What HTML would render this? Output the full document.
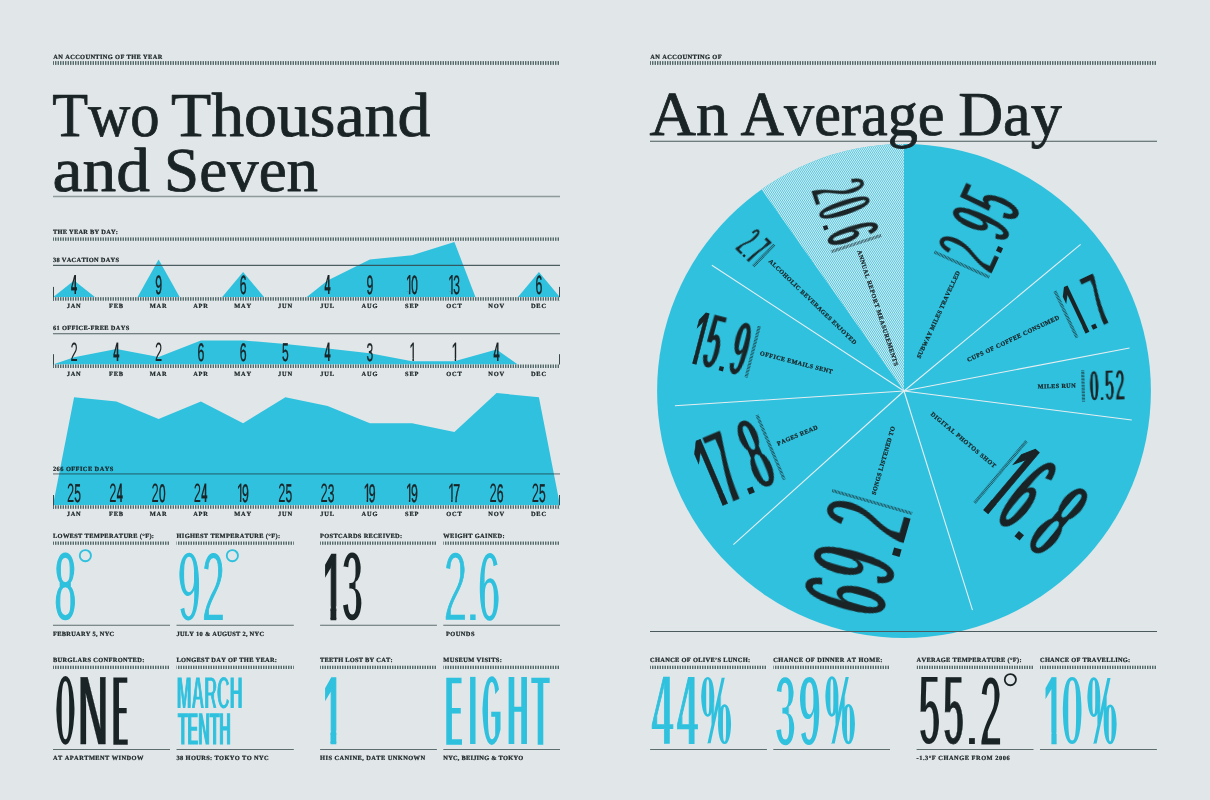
<!DOCTYPE html>
<html lang="en"><head><meta charset="utf-8"><title>Two Thousand and Seven</title>
<style>html,body{margin:0;padding:0;background:#e1e6e8;}svg{display:block}text{white-space:pre;font-kerning:none}</style></head>
<body>
<svg width="1210" height="800" viewBox="0 0 1210 800" text-rendering="geometricPrecision">
<defs>
<pattern id="tk" width="5" height="8" patternUnits="userSpaceOnUse"><rect width="5" height="8" fill="#e5ebec"/><rect x="0" width="1" height="8" fill="#566869"/><rect x="2" width="1" height="8" fill="#566869"/><rect x="3" width="2" height="8" fill="#a3b2b3"/></pattern>
<clipPath id="c1"><path d="M-9,-90H70V-9.53H34.74V9H24.39V-9.53H-9Z"/></clipPath>
<clipPath id="c2"><path d="M-9,-90H70V-9.53H34.74V9H24.39V-9.53H-9Z"/></clipPath>
<clipPath id="c3"><path d="M-9,-90H70V-9.53H34.74V9H24.39V-9.53H-9Z"/></clipPath>
<clipPath id="c4"><path d="M-9,-90H70V-9.53H34.74V9H24.39V-9.53H-9Z"/></clipPath>
<clipPath id="c5"><path d="M-9,-90H70V-9.53H34.74V9H24.39V-9.53H-9Z"/></clipPath>
<clipPath id="c6"><path d="M-9,-90H70V-9.53H34.74V9H24.39V-9.53H-9Z"/></clipPath>
<clipPath id="c7"><path d="M-9,-90H70V-9.53H34.74V9H24.39V-9.53H-9Z"/></clipPath>
<clipPath id="c8"><path d="M-9,-90H70V-9.53H34.74V9H24.39V-9.53H-9Z"/></clipPath>
<filter id="er1" x="-15%" y="-10%" width="130%" height="120%" color-interpolation-filters="sRGB"><feMorphology operator="erode" radius="0 2.14"/></filter>
<filter id="er2" x="-15%" y="-10%" width="130%" height="120%" color-interpolation-filters="sRGB"><feMorphology operator="erode" radius="0 3.08"/></filter>
<filter id="er3" x="-15%" y="-10%" width="130%" height="120%" color-interpolation-filters="sRGB"><feMorphology operator="erode" radius="0 2.10"/></filter>
<clipPath id="c9"><path d="M-9,-90H70V-13.17H38.72V9H21.68V-13.17H-9Z"/></clipPath>
<filter id="er4" x="-15%" y="-10%" width="130%" height="120%" color-interpolation-filters="sRGB"><feMorphology operator="erode" radius="0 2.96"/></filter>
<filter id="er5" x="-15%" y="-10%" width="130%" height="120%" color-interpolation-filters="sRGB"><feMorphology operator="erode" radius="0 2.09"/></filter>
<filter id="er6" x="-15%" y="-10%" width="130%" height="120%" color-interpolation-filters="sRGB"><feMorphology operator="erode" radius="0 3.11"/></filter>
<filter id="er7" x="-15%" y="-10%" width="130%" height="120%" color-interpolation-filters="sRGB"><feMorphology operator="erode" radius="0 7.58"/></filter>
<filter id="er8" x="-15%" y="-10%" width="130%" height="120%" color-interpolation-filters="sRGB"><feMorphology operator="erode" radius="0 9.40"/></filter>
<filter id="er9" x="-15%" y="-10%" width="130%" height="120%" color-interpolation-filters="sRGB"><feMorphology operator="erode" radius="0 4.39"/></filter>
<filter id="er10" x="-15%" y="-10%" width="130%" height="120%" color-interpolation-filters="sRGB"><feMorphology operator="erode" radius="0 4.44"/></filter>
<clipPath id="c10"><path d="M-9,-90H70V-13.17H38.72V9H21.68V-13.17H-9Z"/></clipPath>
<filter id="er11" x="-15%" y="-10%" width="130%" height="120%" color-interpolation-filters="sRGB"><feMorphology operator="erode" radius="0 7.56"/></filter>
<filter id="er12" x="-15%" y="-10%" width="130%" height="120%" color-interpolation-filters="sRGB"><feMorphology operator="erode" radius="0 7.64"/></filter>
<filter id="er13" x="-15%" y="-10%" width="130%" height="120%" color-interpolation-filters="sRGB"><feMorphology operator="erode" radius="0 6.48"/></filter>
<filter id="er14" x="-15%" y="-10%" width="130%" height="120%" color-interpolation-filters="sRGB"><feMorphology operator="erode" radius="0 5.68"/></filter>
<clipPath id="wclip"><path d="M904.0,391.0 L761.50,189.37 A246.9,246.9 0 0 1 904.00,144.10 Z"/></clipPath>
<filter id="er15" x="-15%" y="-10%" width="130%" height="120%" color-interpolation-filters="sRGB"><feMorphology operator="erode" radius="0 3.72"/></filter>
<filter id="er16" x="-15%" y="-10%" width="130%" height="120%" color-interpolation-filters="sRGB"><feMorphology operator="erode" radius="0 5.06"/></filter>
<filter id="er17" x="-15%" y="-10%" width="130%" height="120%" color-interpolation-filters="sRGB"><feMorphology operator="erode" radius="0 3.93"/></filter>
<filter id="er18" x="-15%" y="-10%" width="130%" height="120%" color-interpolation-filters="sRGB"><feMorphology operator="erode" radius="0 4.40"/></filter>
<filter id="er19" x="-15%" y="-10%" width="130%" height="120%" color-interpolation-filters="sRGB"><feMorphology operator="erode" radius="0 6.49"/></filter>
<clipPath id="c11"><path d="M-9,-90H70V-12.48H38.03V9H22.37V-12.48H-9Z"/></clipPath>
<filter id="er20" x="-15%" y="-10%" width="130%" height="120%" color-interpolation-filters="sRGB"><feMorphology operator="erode" radius="0 3.83"/></filter>
<filter id="er21" x="-15%" y="-10%" width="130%" height="120%" color-interpolation-filters="sRGB"><feMorphology operator="erode" radius="0 3.89"/></filter>
<clipPath id="c12"><path d="M-9,-90H70V-12.18H37.74V9H22.66V-12.18H-9Z"/></clipPath>
<filter id="er22" x="-15%" y="-10%" width="130%" height="120%" color-interpolation-filters="sRGB"><feMorphology operator="erode" radius="0 5.45"/></filter>
<filter id="er23" x="-15%" y="-10%" width="130%" height="120%" color-interpolation-filters="sRGB"><feMorphology operator="erode" radius="0 3.24"/></filter>
<filter id="er24" x="-15%" y="-10%" width="130%" height="120%" color-interpolation-filters="sRGB"><feMorphology operator="erode" radius="0 3.23"/></filter>
<filter id="er25" x="-15%" y="-10%" width="130%" height="120%" color-interpolation-filters="sRGB"><feMorphology operator="erode" radius="0 3.13"/></filter>
<clipPath id="c13"><path d="M-9,-90H70V-12.56H38.11V9H22.29V-12.56H-9Z"/></clipPath>
<filter id="er26" x="-15%" y="-10%" width="130%" height="120%" color-interpolation-filters="sRGB"><feMorphology operator="erode" radius="0 4.20"/></filter>
<filter id="er27" x="-15%" y="-10%" width="130%" height="120%" color-interpolation-filters="sRGB"><feMorphology operator="erode" radius="0 4.16"/></filter>
<filter id="er28" x="-15%" y="-10%" width="130%" height="120%" color-interpolation-filters="sRGB"><feMorphology operator="erode" radius="0 4.70"/></filter>
<filter id="er29" x="-15%" y="-10%" width="130%" height="120%" color-interpolation-filters="sRGB"><feMorphology operator="erode" radius="0 4.57"/></filter>
<filter id="er30" x="-15%" y="-10%" width="130%" height="120%" color-interpolation-filters="sRGB"><feMorphology operator="erode" radius="0 2.44"/></filter>
<clipPath id="c14"><path d="M-9,-90H70V-11.81H37.36V9H23.04V-11.81H-9Z"/></clipPath>
<filter id="er31" x="-15%" y="-10%" width="130%" height="120%" color-interpolation-filters="sRGB"><feMorphology operator="erode" radius="0 3.86"/></filter>
<filter id="er32" x="-15%" y="-10%" width="130%" height="120%" color-interpolation-filters="sRGB"><feMorphology operator="erode" radius="0 3.22"/></filter>
<filter id="er33" x="-15%" y="-10%" width="130%" height="120%" color-interpolation-filters="sRGB"><feMorphology operator="erode" radius="0 3.38"/></filter>
<filter id="er34" x="-15%" y="-10%" width="130%" height="120%" color-interpolation-filters="sRGB"><feMorphology operator="erode" radius="0 3.33"/></filter>
<filter id="er35" x="-15%" y="-10%" width="130%" height="120%" color-interpolation-filters="sRGB"><feMorphology operator="erode" radius="0 3.82"/></filter>
<filter id="er36" x="-15%" y="-10%" width="130%" height="120%" color-interpolation-filters="sRGB"><feMorphology operator="erode" radius="0 3.84"/></filter>
<filter id="er37" x="-15%" y="-10%" width="130%" height="120%" color-interpolation-filters="sRGB"><feMorphology operator="erode" radius="0 4.93"/></filter>
<filter id="er38" x="-15%" y="-10%" width="130%" height="120%" color-interpolation-filters="sRGB"><feMorphology operator="erode" radius="0 2.95"/></filter>
<filter id="er39" x="-15%" y="-10%" width="130%" height="120%" color-interpolation-filters="sRGB"><feMorphology operator="erode" radius="0 4.89"/></filter>
<filter id="er40" x="-15%" y="-10%" width="130%" height="120%" color-interpolation-filters="sRGB"><feMorphology operator="erode" radius="0 2.97"/></filter>
<filter id="er41" x="-15%" y="-10%" width="130%" height="120%" color-interpolation-filters="sRGB"><feMorphology operator="erode" radius="0 3.16"/></filter>
<clipPath id="c15"><path d="M-9,-90H70V-12.03H37.59V9H22.81V-12.03H-9Z"/></clipPath>
<filter id="er42" x="-15%" y="-10%" width="130%" height="120%" color-interpolation-filters="sRGB"><feMorphology operator="erode" radius="0 3.85"/></filter>
<filter id="er43" x="-15%" y="-10%" width="130%" height="120%" color-interpolation-filters="sRGB"><feMorphology operator="erode" radius="0 4.95"/></filter>
</defs>
<rect width="1210" height="800" fill="#e1e6e8"/>
<text x="53.3" y="58.7" font-family="Liberation Serif, serif" font-weight="bold" font-size="6.4" fill="#1a2325" stroke="#1a2325" stroke-width="0.22" textLength="109.0" lengthAdjust="spacing">AN ACCOUNTING OF THE YEAR</text>
<g transform="translate(53,61.10)"><rect x="0.00" y="0" width="507.00" height="3.80" fill="url(#tk)"/></g>
<text y="135.70" font-family="Liberation Serif, serif" font-size="62.5" fill="#1a2325" stroke="#1a2325" stroke-width="0.8" stroke-linejoin="round"><tspan x="52.24" textLength="107.39" lengthAdjust="spacingAndGlyphs">Two</tspan> <tspan x="171.01" textLength="259.39" lengthAdjust="spacingAndGlyphs">Thousand</tspan></text>
<text y="190.90" font-family="Liberation Serif, serif" font-size="62.5" fill="#1a2325" stroke="#1a2325" stroke-width="0.8" stroke-linejoin="round"><tspan x="52.53" textLength="97.50" lengthAdjust="spacingAndGlyphs">and</tspan> <tspan x="164.08" textLength="154.07" lengthAdjust="spacingAndGlyphs">Seven</tspan></text>
<line x1="53.0" y1="196.5" x2="560.0" y2="196.5" stroke="#8e9a9c" stroke-width="1.6" opacity="1"/>
<text x="53.0" y="233.9" font-family="Liberation Serif, serif" font-weight="bold" font-size="6.4" fill="#1a2325" stroke="#1a2325" stroke-width="0.22" textLength="65.0" lengthAdjust="spacing">THE YEAR BY DAY:</text>
<g transform="translate(53,237.40)"><rect x="0.00" y="0" width="507.00" height="3.40" fill="url(#tk)"/></g>
<polygon points="53.0,297.2 74.1,280.4 95.2,297.2" fill="#2fc1de"/>
<polygon points="137.5,297.2 158.6,259.4 179.8,297.2" fill="#2fc1de"/>
<polygon points="222.0,297.2 243.1,272.0 264.2,297.2" fill="#2fc1de"/>
<polygon points="306.5,297.2 327.6,280.4 369.9,259.4 412.1,255.2 454.4,242.0 475.5,297.2" fill="#2fc1de"/>
<polygon points="517.8,297.2 538.9,272.0 560.0,297.2" fill="#2fc1de"/>
<line x1="53.0" y1="265.4" x2="560.0" y2="265.4" stroke="#34474b" stroke-width="1.1" opacity="0.85"/>
<text x="53.0" y="262.3" font-family="Liberation Serif, serif" font-weight="bold" font-size="6.4" fill="#1a2325" stroke="#1a2325" stroke-width="0.22" textLength="66.0" lengthAdjust="spacing">38 VACATION DAYS</text>
<line x1="53.5" y1="286.9" x2="53.5" y2="300.7" stroke="#3a494c" stroke-width="1"/>
<line x1="559.5" y1="286.9" x2="559.5" y2="300.7" stroke="#3a494c" stroke-width="1"/>
<g transform="translate(53,297.20)"><rect x="0.00" y="0" width="507.00" height="3.50" fill="url(#tk)"/></g>
<text x="74.1" y="308.3" font-family="Liberation Serif, serif" font-weight="bold" font-size="6.4" fill="#1a2325" stroke="#1a2325" stroke-width="0.22" letter-spacing="0.8" text-anchor="middle">JAN</text>
<text x="116.4" y="308.3" font-family="Liberation Serif, serif" font-weight="bold" font-size="6.4" fill="#1a2325" stroke="#1a2325" stroke-width="0.22" letter-spacing="0.8" text-anchor="middle">FEB</text>
<text x="158.6" y="308.3" font-family="Liberation Serif, serif" font-weight="bold" font-size="6.4" fill="#1a2325" stroke="#1a2325" stroke-width="0.22" letter-spacing="0.8" text-anchor="middle">MAR</text>
<text x="200.9" y="308.3" font-family="Liberation Serif, serif" font-weight="bold" font-size="6.4" fill="#1a2325" stroke="#1a2325" stroke-width="0.22" letter-spacing="0.8" text-anchor="middle">APR</text>
<text x="243.1" y="308.3" font-family="Liberation Serif, serif" font-weight="bold" font-size="6.4" fill="#1a2325" stroke="#1a2325" stroke-width="0.22" letter-spacing="0.8" text-anchor="middle">MAY</text>
<text x="285.4" y="308.3" font-family="Liberation Serif, serif" font-weight="bold" font-size="6.4" fill="#1a2325" stroke="#1a2325" stroke-width="0.22" letter-spacing="0.8" text-anchor="middle">JUN</text>
<text x="327.6" y="308.3" font-family="Liberation Serif, serif" font-weight="bold" font-size="6.4" fill="#1a2325" stroke="#1a2325" stroke-width="0.22" letter-spacing="0.8" text-anchor="middle">JUL</text>
<text x="369.9" y="308.3" font-family="Liberation Serif, serif" font-weight="bold" font-size="6.4" fill="#1a2325" stroke="#1a2325" stroke-width="0.22" letter-spacing="0.8" text-anchor="middle">AUG</text>
<text x="412.1" y="308.3" font-family="Liberation Serif, serif" font-weight="bold" font-size="6.4" fill="#1a2325" stroke="#1a2325" stroke-width="0.22" letter-spacing="0.8" text-anchor="middle">SEP</text>
<text x="454.4" y="308.3" font-family="Liberation Serif, serif" font-weight="bold" font-size="6.4" fill="#1a2325" stroke="#1a2325" stroke-width="0.22" letter-spacing="0.8" text-anchor="middle">OCT</text>
<text x="496.6" y="308.3" font-family="Liberation Serif, serif" font-weight="bold" font-size="6.4" fill="#1a2325" stroke="#1a2325" stroke-width="0.22" letter-spacing="0.8" text-anchor="middle">NOV</text>
<text x="538.9" y="308.3" font-family="Liberation Serif, serif" font-weight="bold" font-size="6.4" fill="#1a2325" stroke="#1a2325" stroke-width="0.22" letter-spacing="0.8" text-anchor="middle">DEC</text>
<g><text transform="translate(71.05,294.10) scale(0.1087,0.2762)" font-family="Liberation Sans, sans-serif" font-weight="bold" font-size="100" fill="#1a2325" stroke="#1a2325" stroke-width="0.71">4</text></g>
<g><text transform="translate(155.21,293.70) scale(0.1229,0.2643)" font-family="Liberation Sans, sans-serif" font-size="100" fill="#1a2325" stroke="#1a2325" stroke-width="1.83">9</text></g>
<g><text transform="translate(239.66,293.70) scale(0.1230,0.2644)" font-family="Liberation Sans, sans-serif" font-size="100" fill="#1a2325" stroke="#1a2325" stroke-width="1.82">6</text></g>
<g><text transform="translate(324.55,294.10) scale(0.1087,0.2762)" font-family="Liberation Sans, sans-serif" font-weight="bold" font-size="100" fill="#1a2325" stroke="#1a2325" stroke-width="0.71">4</text></g>
<g><text transform="translate(366.46,293.70) scale(0.1229,0.2643)" font-family="Liberation Sans, sans-serif" font-size="100" fill="#1a2325" stroke="#1a2325" stroke-width="1.83">9</text></g>
<g><text transform="translate(405.64,294.07) scale(0.1345,0.2754)" font-family="Liberation Sans, sans-serif" font-size="100" fill="#1a2325" stroke="#1a2325" stroke-width="0.92" clip-path="url(#c1)">1</text><text transform="translate(411.15,293.64) scale(0.1178,0.2627)" font-family="Liberation Sans, sans-serif" font-size="100" fill="#1a2325" stroke="#1a2325" stroke-width="2.29">0</text></g>
<g><text transform="translate(447.89,294.07) scale(0.1345,0.2754)" font-family="Liberation Sans, sans-serif" font-size="100" fill="#1a2325" stroke="#1a2325" stroke-width="0.92" clip-path="url(#c2)">1</text><text transform="translate(453.34,293.78) scale(0.1213,0.2666)" font-family="Liberation Sans, sans-serif" font-size="100" fill="#1a2325" stroke="#1a2325" stroke-width="1.21">3</text></g>
<g><text transform="translate(535.41,293.70) scale(0.1230,0.2644)" font-family="Liberation Sans, sans-serif" font-size="100" fill="#1a2325" stroke="#1a2325" stroke-width="1.82">6</text></g>
<polygon points="53.0,364.5 74.1,357.3 116.4,349.0 158.6,357.0 200.9,340.4 243.1,340.4 285.4,344.0 327.6,348.5 369.9,353.2 412.1,361.3 454.4,361.3 496.6,349.6 517.8,364.5" fill="#2fc1de"/>
<line x1="53.0" y1="333.7" x2="560.0" y2="333.7" stroke="#34474b" stroke-width="1.1" opacity="0.85"/>
<text x="53.0" y="329.7" font-family="Liberation Serif, serif" font-weight="bold" font-size="6.4" fill="#1a2325" stroke="#1a2325" stroke-width="0.22" textLength="76.2" lengthAdjust="spacing">61 OFFICE-FREE DAYS</text>
<line x1="53.5" y1="354.2" x2="53.5" y2="368.0" stroke="#3a494c" stroke-width="1"/>
<line x1="559.5" y1="354.2" x2="559.5" y2="368.0" stroke="#3a494c" stroke-width="1"/>
<g transform="translate(53,364.50)"><rect x="0.00" y="0" width="507.00" height="3.50" fill="url(#tk)"/></g>
<text x="74.1" y="375.9" font-family="Liberation Serif, serif" font-weight="bold" font-size="6.4" fill="#1a2325" stroke="#1a2325" stroke-width="0.22" letter-spacing="0.8" text-anchor="middle">JAN</text>
<text x="116.4" y="375.9" font-family="Liberation Serif, serif" font-weight="bold" font-size="6.4" fill="#1a2325" stroke="#1a2325" stroke-width="0.22" letter-spacing="0.8" text-anchor="middle">FEB</text>
<text x="158.6" y="375.9" font-family="Liberation Serif, serif" font-weight="bold" font-size="6.4" fill="#1a2325" stroke="#1a2325" stroke-width="0.22" letter-spacing="0.8" text-anchor="middle">MAR</text>
<text x="200.9" y="375.9" font-family="Liberation Serif, serif" font-weight="bold" font-size="6.4" fill="#1a2325" stroke="#1a2325" stroke-width="0.22" letter-spacing="0.8" text-anchor="middle">APR</text>
<text x="243.1" y="375.9" font-family="Liberation Serif, serif" font-weight="bold" font-size="6.4" fill="#1a2325" stroke="#1a2325" stroke-width="0.22" letter-spacing="0.8" text-anchor="middle">MAY</text>
<text x="285.4" y="375.9" font-family="Liberation Serif, serif" font-weight="bold" font-size="6.4" fill="#1a2325" stroke="#1a2325" stroke-width="0.22" letter-spacing="0.8" text-anchor="middle">JUN</text>
<text x="327.6" y="375.9" font-family="Liberation Serif, serif" font-weight="bold" font-size="6.4" fill="#1a2325" stroke="#1a2325" stroke-width="0.22" letter-spacing="0.8" text-anchor="middle">JUL</text>
<text x="369.9" y="375.9" font-family="Liberation Serif, serif" font-weight="bold" font-size="6.4" fill="#1a2325" stroke="#1a2325" stroke-width="0.22" letter-spacing="0.8" text-anchor="middle">AUG</text>
<text x="412.1" y="375.9" font-family="Liberation Serif, serif" font-weight="bold" font-size="6.4" fill="#1a2325" stroke="#1a2325" stroke-width="0.22" letter-spacing="0.8" text-anchor="middle">SEP</text>
<text x="454.4" y="375.9" font-family="Liberation Serif, serif" font-weight="bold" font-size="6.4" fill="#1a2325" stroke="#1a2325" stroke-width="0.22" letter-spacing="0.8" text-anchor="middle">OCT</text>
<text x="496.6" y="375.9" font-family="Liberation Serif, serif" font-weight="bold" font-size="6.4" fill="#1a2325" stroke="#1a2325" stroke-width="0.22" letter-spacing="0.8" text-anchor="middle">NOV</text>
<text x="538.9" y="375.9" font-family="Liberation Serif, serif" font-weight="bold" font-size="6.4" fill="#1a2325" stroke="#1a2325" stroke-width="0.22" letter-spacing="0.8" text-anchor="middle">DEC</text>
<g><text transform="translate(70.53,360.99) scale(0.1294,0.2633)" font-family="Liberation Sans, sans-serif" font-size="100" fill="#1a2325">2</text></g>
<g><text transform="translate(113.30,360.91) scale(0.1087,0.2647)" font-family="Liberation Sans, sans-serif" font-weight="bold" font-size="100" fill="#1a2325" stroke="#1a2325" stroke-width="0.71">4</text></g>
<g><text transform="translate(155.03,360.99) scale(0.1294,0.2633)" font-family="Liberation Sans, sans-serif" font-size="100" fill="#1a2325">2</text></g>
<g><text transform="translate(197.41,360.52) scale(0.1230,0.2534)" font-family="Liberation Sans, sans-serif" font-size="100" fill="#1a2325" stroke="#1a2325" stroke-width="1.82">6</text></g>
<g><text transform="translate(239.66,360.52) scale(0.1230,0.2534)" font-family="Liberation Sans, sans-serif" font-size="100" fill="#1a2325" stroke="#1a2325" stroke-width="1.82">6</text></g>
<g><text transform="translate(282.03,360.55) scale(0.1205,0.2580)" font-family="Liberation Sans, sans-serif" font-size="100" fill="#1a2325" stroke="#1a2325" stroke-width="1.53">5</text></g>
<g><text transform="translate(324.55,360.91) scale(0.1087,0.2647)" font-family="Liberation Sans, sans-serif" font-weight="bold" font-size="100" fill="#1a2325" stroke="#1a2325" stroke-width="0.71">4</text></g>
<g><text transform="translate(366.54,360.60) scale(0.1213,0.2555)" font-family="Liberation Sans, sans-serif" font-size="100" fill="#1a2325" stroke="#1a2325" stroke-width="1.21">3</text></g>
<g><text transform="translate(409.19,360.88) scale(0.1345,0.2639)" font-family="Liberation Sans, sans-serif" font-size="100" fill="#1a2325" stroke="#1a2325" stroke-width="0.92" clip-path="url(#c3)">1</text></g>
<g><text transform="translate(451.44,360.88) scale(0.1345,0.2639)" font-family="Liberation Sans, sans-serif" font-size="100" fill="#1a2325" stroke="#1a2325" stroke-width="0.92" clip-path="url(#c4)">1</text></g>
<g><text transform="translate(493.55,360.91) scale(0.1087,0.2647)" font-family="Liberation Sans, sans-serif" font-weight="bold" font-size="100" fill="#1a2325" stroke="#1a2325" stroke-width="0.71">4</text></g>
<polygon points="53.0,505.3 74.1,397.3 116.4,401.6 158.6,418.9 200.9,401.6 243.1,423.2 285.4,397.3 327.6,405.9 369.9,423.2 412.1,423.2 454.4,431.9 496.6,393.0 538.9,397.3 560.0,505.3" fill="#2fc1de"/>
<line x1="53.0" y1="473.9" x2="560.0" y2="473.9" stroke="#1a2325" stroke-width="1.9" opacity="0.36"/>
<text x="53.0" y="470.6" font-family="Liberation Serif, serif" font-weight="bold" font-size="6.4" fill="#1a2325" stroke="#1a2325" stroke-width="0.22" textLength="60.3" lengthAdjust="spacing">266 OFFICE DAYS</text>
<line x1="53.5" y1="495.0" x2="53.5" y2="508.8" stroke="#3a494c" stroke-width="1"/>
<line x1="559.5" y1="495.0" x2="559.5" y2="508.8" stroke="#3a494c" stroke-width="1"/>
<g transform="translate(53,505.30)"><rect x="0.00" y="0" width="507.00" height="3.50" fill="url(#tk)"/></g>
<text x="74.1" y="516.3" font-family="Liberation Serif, serif" font-weight="bold" font-size="6.4" fill="#1a2325" stroke="#1a2325" stroke-width="0.22" letter-spacing="0.8" text-anchor="middle">JAN</text>
<text x="116.4" y="516.3" font-family="Liberation Serif, serif" font-weight="bold" font-size="6.4" fill="#1a2325" stroke="#1a2325" stroke-width="0.22" letter-spacing="0.8" text-anchor="middle">FEB</text>
<text x="158.6" y="516.3" font-family="Liberation Serif, serif" font-weight="bold" font-size="6.4" fill="#1a2325" stroke="#1a2325" stroke-width="0.22" letter-spacing="0.8" text-anchor="middle">MAR</text>
<text x="200.9" y="516.3" font-family="Liberation Serif, serif" font-weight="bold" font-size="6.4" fill="#1a2325" stroke="#1a2325" stroke-width="0.22" letter-spacing="0.8" text-anchor="middle">APR</text>
<text x="243.1" y="516.3" font-family="Liberation Serif, serif" font-weight="bold" font-size="6.4" fill="#1a2325" stroke="#1a2325" stroke-width="0.22" letter-spacing="0.8" text-anchor="middle">MAY</text>
<text x="285.4" y="516.3" font-family="Liberation Serif, serif" font-weight="bold" font-size="6.4" fill="#1a2325" stroke="#1a2325" stroke-width="0.22" letter-spacing="0.8" text-anchor="middle">JUN</text>
<text x="327.6" y="516.3" font-family="Liberation Serif, serif" font-weight="bold" font-size="6.4" fill="#1a2325" stroke="#1a2325" stroke-width="0.22" letter-spacing="0.8" text-anchor="middle">JUL</text>
<text x="369.9" y="516.3" font-family="Liberation Serif, serif" font-weight="bold" font-size="6.4" fill="#1a2325" stroke="#1a2325" stroke-width="0.22" letter-spacing="0.8" text-anchor="middle">AUG</text>
<text x="412.1" y="516.3" font-family="Liberation Serif, serif" font-weight="bold" font-size="6.4" fill="#1a2325" stroke="#1a2325" stroke-width="0.22" letter-spacing="0.8" text-anchor="middle">SEP</text>
<text x="454.4" y="516.3" font-family="Liberation Serif, serif" font-weight="bold" font-size="6.4" fill="#1a2325" stroke="#1a2325" stroke-width="0.22" letter-spacing="0.8" text-anchor="middle">OCT</text>
<text x="496.6" y="516.3" font-family="Liberation Serif, serif" font-weight="bold" font-size="6.4" fill="#1a2325" stroke="#1a2325" stroke-width="0.22" letter-spacing="0.8" text-anchor="middle">NOV</text>
<text x="538.9" y="516.3" font-family="Liberation Serif, serif" font-weight="bold" font-size="6.4" fill="#1a2325" stroke="#1a2325" stroke-width="0.22" letter-spacing="0.8" text-anchor="middle">DEC</text>
<g><text transform="translate(66.98,502.19) scale(0.1294,0.2633)" font-family="Liberation Sans, sans-serif" font-size="100" fill="#1a2325">2</text><text transform="translate(74.33,501.75) scale(0.1205,0.2580)" font-family="Liberation Sans, sans-serif" font-size="100" fill="#1a2325" stroke="#1a2325" stroke-width="1.53">5</text></g>
<g><text transform="translate(109.23,502.19) scale(0.1294,0.2633)" font-family="Liberation Sans, sans-serif" font-size="100" fill="#1a2325">2</text><text transform="translate(116.85,502.11) scale(0.1087,0.2647)" font-family="Liberation Sans, sans-serif" font-weight="bold" font-size="100" fill="#1a2325" stroke="#1a2325" stroke-width="0.71">4</text></g>
<g><text transform="translate(151.48,502.19) scale(0.1294,0.2633)" font-family="Liberation Sans, sans-serif" font-size="100" fill="#1a2325">2</text><text transform="translate(158.90,501.67) scale(0.1178,0.2518)" font-family="Liberation Sans, sans-serif" font-size="100" fill="#1a2325" stroke="#1a2325" stroke-width="2.29">0</text></g>
<g><text transform="translate(193.73,502.19) scale(0.1294,0.2633)" font-family="Liberation Sans, sans-serif" font-size="100" fill="#1a2325">2</text><text transform="translate(201.35,502.11) scale(0.1087,0.2647)" font-family="Liberation Sans, sans-serif" font-weight="bold" font-size="100" fill="#1a2325" stroke="#1a2325" stroke-width="0.71">4</text></g>
<g><text transform="translate(236.64,502.08) scale(0.1345,0.2639)" font-family="Liberation Sans, sans-serif" font-size="100" fill="#1a2325" stroke="#1a2325" stroke-width="0.92" clip-path="url(#c5)">1</text><text transform="translate(242.01,501.72) scale(0.1229,0.2533)" font-family="Liberation Sans, sans-serif" font-size="100" fill="#1a2325" stroke="#1a2325" stroke-width="1.83">9</text></g>
<g><text transform="translate(278.23,502.19) scale(0.1294,0.2633)" font-family="Liberation Sans, sans-serif" font-size="100" fill="#1a2325">2</text><text transform="translate(285.58,501.75) scale(0.1205,0.2580)" font-family="Liberation Sans, sans-serif" font-size="100" fill="#1a2325" stroke="#1a2325" stroke-width="1.53">5</text></g>
<g><text transform="translate(320.48,502.19) scale(0.1294,0.2633)" font-family="Liberation Sans, sans-serif" font-size="100" fill="#1a2325">2</text><text transform="translate(327.84,501.80) scale(0.1213,0.2555)" font-family="Liberation Sans, sans-serif" font-size="100" fill="#1a2325" stroke="#1a2325" stroke-width="1.21">3</text></g>
<g><text transform="translate(363.39,502.08) scale(0.1345,0.2639)" font-family="Liberation Sans, sans-serif" font-size="100" fill="#1a2325" stroke="#1a2325" stroke-width="0.92" clip-path="url(#c6)">1</text><text transform="translate(368.76,501.72) scale(0.1229,0.2533)" font-family="Liberation Sans, sans-serif" font-size="100" fill="#1a2325" stroke="#1a2325" stroke-width="1.83">9</text></g>
<g><text transform="translate(405.64,502.08) scale(0.1345,0.2639)" font-family="Liberation Sans, sans-serif" font-size="100" fill="#1a2325" stroke="#1a2325" stroke-width="0.92" clip-path="url(#c7)">1</text><text transform="translate(411.01,501.72) scale(0.1229,0.2533)" font-family="Liberation Sans, sans-serif" font-size="100" fill="#1a2325" stroke="#1a2325" stroke-width="1.83">9</text></g>
<g><text transform="translate(447.89,502.08) scale(0.1345,0.2639)" font-family="Liberation Sans, sans-serif" font-size="100" fill="#1a2325" stroke="#1a2325" stroke-width="0.92" clip-path="url(#c8)">1</text><text transform="translate(453.21,501.95) scale(0.1245,0.2601)" font-family="Liberation Sans, sans-serif" font-size="100" fill="#1a2325" stroke="#1a2325" stroke-width="1.94">7</text></g>
<g><text transform="translate(489.48,502.19) scale(0.1294,0.2633)" font-family="Liberation Sans, sans-serif" font-size="100" fill="#1a2325">2</text><text transform="translate(496.71,501.72) scale(0.1230,0.2534)" font-family="Liberation Sans, sans-serif" font-size="100" fill="#1a2325" stroke="#1a2325" stroke-width="1.82">6</text></g>
<g><text transform="translate(531.73,502.19) scale(0.1294,0.2633)" font-family="Liberation Sans, sans-serif" font-size="100" fill="#1a2325">2</text><text transform="translate(539.08,501.75) scale(0.1205,0.2580)" font-family="Liberation Sans, sans-serif" font-size="100" fill="#1a2325" stroke="#1a2325" stroke-width="1.53">5</text></g>
<text x="53.0" y="537.9" font-family="Liberation Serif, serif" font-weight="bold" font-size="6.4" fill="#1a2325" stroke="#1a2325" stroke-width="0.22" textLength="101.0" lengthAdjust="spacing">LOWEST TEMPERATURE (°F):</text>
<g transform="translate(53,541.50)"><rect x="0.00" y="0" width="117.00" height="3.30" fill="url(#tk)"/></g>
<line x1="53.0" y1="625.3000000000001" x2="170.0" y2="625.3000000000001" stroke="#5d6c6f" stroke-width="1.1" opacity="1"/>
<text x="53.0" y="635.5" font-family="Liberation Serif, serif" font-weight="bold" font-size="6.4" fill="#1a2325" stroke="#1a2325" stroke-width="0.22" textLength="61.2" lengthAdjust="spacing">FEBRUARY 5, NYC</text>
<g><text transform="translate(54.55,620.29) scale(0.3902,0.9742)" font-family="Liberation Sans, sans-serif" font-size="100" fill="#2fc1de" stroke="#2fc1de" stroke-width="2.80" filter="url(#er1)">8</text><text x="73.30" y="583.53" font-family="DejaVu Sans, Liberation Sans, sans-serif" font-weight="200" font-size="48.41" fill="#2fc1de">°</text></g>
<text x="176.5" y="537.9" font-family="Liberation Serif, serif" font-weight="bold" font-size="6.4" fill="#1a2325" stroke="#1a2325" stroke-width="0.22" textLength="103.6" lengthAdjust="spacing">HIGHEST TEMPERATURE (°F):</text>
<g transform="translate(176,541.50)"><rect x="0.50" y="0" width="117.30" height="3.30" fill="url(#tk)"/></g>
<line x1="176.5" y1="625.3000000000001" x2="293.8" y2="625.3000000000001" stroke="#5d6c6f" stroke-width="1.1" opacity="1"/>
<text x="176.5" y="635.5" font-family="Liberation Serif, serif" font-weight="bold" font-size="6.4" fill="#1a2325" stroke="#1a2325" stroke-width="0.22" textLength="87.5" lengthAdjust="spacing">JULY 10 &amp; AUGUST 2, NYC</text>
<g><text transform="translate(178.00,621.17) scale(0.4033,0.9999)" font-family="Liberation Sans, sans-serif" font-size="100" fill="#2fc1de" stroke="#2fc1de" stroke-width="2.90" filter="url(#er2)">9</text><text transform="translate(202.34,620.92) scale(0.3994,0.9903)" font-family="Liberation Sans, sans-serif" font-size="100" fill="#2fc1de" stroke="#2fc1de" stroke-width="1.77" filter="url(#er3)">2</text><text x="220.30" y="583.53" font-family="DejaVu Sans, Liberation Sans, sans-serif" font-weight="200" font-size="48.41" fill="#2fc1de">°</text></g>
<text x="320.1" y="537.9" font-family="Liberation Serif, serif" font-weight="bold" font-size="6.4" fill="#1a2325" stroke="#1a2325" stroke-width="0.22" textLength="82.0" lengthAdjust="spacing">POSTCARDS RECEIVED:</text>
<g transform="translate(320,541.50)"><rect x="0.10" y="0" width="116.80" height="3.30" fill="url(#tk)"/></g>
<line x1="320.1" y1="625.3000000000001" x2="436.9" y2="625.3000000000001" stroke="#5d6c6f" stroke-width="1.1" opacity="1"/>
<g><text transform="translate(323.14,618.53) scale(0.3399,0.9312)" font-family="Liberation Sans, sans-serif" font-weight="bold" font-size="100" fill="#1a2325" stroke="#1a2325" stroke-width="2.72" clip-path="url(#c9)">1</text><text transform="translate(341.83,622.43) scale(0.3802,1.0388)" font-family="Liberation Sans, sans-serif" font-weight="bold" font-size="100" fill="#1a2325" filter="url(#er4)">3</text></g>
<text x="443.3" y="537.9" font-family="Liberation Serif, serif" font-weight="bold" font-size="6.4" fill="#1a2325" stroke="#1a2325" stroke-width="0.22" textLength="61.3" lengthAdjust="spacing">WEIGHT GAINED:</text>
<g transform="translate(443,541.50)"><rect x="0.30" y="0" width="116.70" height="3.30" fill="url(#tk)"/></g>
<line x1="443.3" y1="625.3000000000001" x2="560.0" y2="625.3000000000001" stroke="#5d6c6f" stroke-width="1.1" opacity="1"/>
<text x="445.9" y="635.5" font-family="Liberation Serif, serif" font-weight="bold" font-size="6.4" fill="#1a2325" stroke="#1a2325" stroke-width="0.22" textLength="28.6" lengthAdjust="spacing">POUNDS</text>
<g><text transform="translate(444.03,621.08) scale(0.4106,0.9948)" font-family="Liberation Sans, sans-serif" font-size="100" fill="#2fc1de" stroke="#2fc1de" stroke-width="1.45" filter="url(#er5)">2</text><text transform="translate(464.92,619.80) scale(0.5671,0.5151)" font-family="Liberation Sans, sans-serif" font-size="100" fill="#2fc1de">.</text><text transform="translate(478.56,620.84) scale(0.3798,0.9902)" font-family="Liberation Sans, sans-serif" font-size="100" fill="#2fc1de" stroke="#2fc1de" stroke-width="3.63" filter="url(#er6)">6</text></g>
<text x="53.0" y="662.1" font-family="Liberation Serif, serif" font-weight="bold" font-size="6.4" fill="#1a2325" stroke="#1a2325" stroke-width="0.22" textLength="91.3" lengthAdjust="spacing">BURGLARS CONFRONTED:</text>
<g transform="translate(53,665.70)"><rect x="0.00" y="0" width="117.00" height="3.30" fill="url(#tk)"/></g>
<line x1="53.0" y1="749.5" x2="170.0" y2="749.5" stroke="#5d6c6f" stroke-width="1.1" opacity="1"/>
<text x="53.0" y="759.7" font-family="Liberation Serif, serif" font-weight="bold" font-size="6.4" fill="#1a2325" stroke="#1a2325" stroke-width="0.22" textLength="90.4" lengthAdjust="spacing">AT APARTMENT WINDOW</text>
<g><text transform="translate(56.25,747.45) scale(0.2368,1.0661)" font-family="Liberation Sans, sans-serif" font-weight="bold" font-size="100" fill="#1a2325" stroke="#1a2325" stroke-width="8.65" filter="url(#er7)">O</text><text transform="translate(77.77,744.07) scale(0.4236,0.9687)" font-family="Liberation Sans, sans-serif" font-weight="bold" font-size="100" fill="#1a2325" stroke="#1a2325" stroke-width="0.47">N</text><text transform="translate(113.20,747.66) scale(0.2103,1.0729)" font-family="Liberation Sans, sans-serif" font-weight="bold" font-size="100" fill="#1a2325" stroke="#1a2325" stroke-width="12.38" filter="url(#er8)">E</text></g>
<text x="176.5" y="662.1" font-family="Liberation Serif, serif" font-weight="bold" font-size="6.4" fill="#1a2325" stroke="#1a2325" stroke-width="0.22" textLength="100.5" lengthAdjust="spacing">LONGEST DAY OF THE YEAR:</text>
<g transform="translate(176,665.70)"><rect x="0.50" y="0" width="117.30" height="3.30" fill="url(#tk)"/></g>
<line x1="176.5" y1="749.5" x2="293.8" y2="749.5" stroke="#5d6c6f" stroke-width="1.1" opacity="1"/>
<text x="176.5" y="759.7" font-family="Liberation Serif, serif" font-weight="bold" font-size="6.4" fill="#1a2325" stroke="#1a2325" stroke-width="0.22" textLength="92.0" lengthAdjust="spacing">38 HOURS: TOKYO TO NYC</text>
<text transform="translate(176.76,709.22) scale(0.1765,0.4740)" font-family="Liberation Sans, sans-serif" font-weight="bold" font-size="100" fill="#2fc1de" stroke="#2fc1de" stroke-width="3.88" filter="url(#er9)">MARCH</text>
<text transform="translate(177.89,744.92) scale(0.1587,0.4685)" font-family="Liberation Sans, sans-serif" font-weight="bold" font-size="100" fill="#2fc1de" stroke="#2fc1de" stroke-width="5.91" filter="url(#er10)">TENTH</text>
<text x="320.1" y="662.1" font-family="Liberation Serif, serif" font-weight="bold" font-size="6.4" fill="#1a2325" stroke="#1a2325" stroke-width="0.22" textLength="72.6" lengthAdjust="spacing">TEETH LOST BY CAT:</text>
<g transform="translate(320,665.70)"><rect x="0.10" y="0" width="116.80" height="3.30" fill="url(#tk)"/></g>
<line x1="320.1" y1="749.5" x2="436.9" y2="749.5" stroke="#5d6c6f" stroke-width="1.1" opacity="1"/>
<text x="320.1" y="759.7" font-family="Liberation Serif, serif" font-weight="bold" font-size="6.4" fill="#1a2325" stroke="#1a2325" stroke-width="0.22" textLength="104.9" lengthAdjust="spacing">HIS CANINE, DATE UNKNOWN</text>
<text transform="translate(323.14,743.02) scale(0.3399,0.9382)" font-family="Liberation Sans, sans-serif" font-weight="bold" font-size="100" fill="#2fc1de" stroke="#2fc1de" stroke-width="2.72" clip-path="url(#c10)">1</text>
<text x="443.3" y="662.1" font-family="Liberation Serif, serif" font-weight="bold" font-size="6.4" fill="#1a2325" stroke="#1a2325" stroke-width="0.22" textLength="58.6" lengthAdjust="spacing">MUSEUM VISITS:</text>
<g transform="translate(443,665.70)"><rect x="0.30" y="0" width="116.70" height="3.30" fill="url(#tk)"/></g>
<line x1="443.3" y1="749.5" x2="560.0" y2="749.5" stroke="#5d6c6f" stroke-width="1.1" opacity="1"/>
<text x="443.3" y="759.7" font-family="Liberation Serif, serif" font-weight="bold" font-size="6.4" fill="#1a2325" stroke="#1a2325" stroke-width="0.22" textLength="80.0" lengthAdjust="spacing">NYC, BEIJING &amp; TOKYO</text>
<g><text transform="translate(445.87,747.51) scale(0.2413,1.0687)" font-family="Liberation Sans, sans-serif" font-weight="bold" font-size="100" fill="#2fc1de" stroke="#2fc1de" stroke-width="8.96" filter="url(#er11)">E</text><text transform="translate(464.76,744.30) scale(0.5790,0.9753)" font-family="Liberation Sans, sans-serif" font-size="100" fill="#2fc1de">I</text><text transform="translate(482.42,747.18) scale(0.2359,1.0583)" font-family="Liberation Sans, sans-serif" font-weight="bold" font-size="100" fill="#2fc1de" stroke="#2fc1de" stroke-width="9.24" filter="url(#er12)">G</text><text transform="translate(507.56,748.35) scale(0.2851,1.0932)" font-family="Liberation Sans, sans-serif" font-weight="bold" font-size="100" fill="#2fc1de" stroke="#2fc1de" stroke-width="5.39" filter="url(#er13)">H</text><text transform="translate(531.70,747.58) scale(0.2861,1.0708)" font-family="Liberation Sans, sans-serif" font-weight="bold" font-size="100" fill="#2fc1de" stroke="#2fc1de" stroke-width="5.07" filter="url(#er14)">T</text></g>
<text x="650.3" y="58.5" font-family="Liberation Serif, serif" font-weight="bold" font-size="6.4" fill="#1a2325" stroke="#1a2325" stroke-width="0.22" textLength="71.3" lengthAdjust="spacing">AN ACCOUNTING OF</text>
<g transform="translate(650,61.10)"><rect x="0.00" y="0" width="507.00" height="3.80" fill="url(#tk)"/></g>
<circle cx="904.0" cy="391.0" r="246.9" fill="#2fc1de"/>
<path d="M904.0,391.0 L761.50,189.37 A246.9,246.9 0 0 1 904.00,144.10 Z" fill="#e2edf1"/>
<path d="M598.2,393.0L755.0,142.0M600.2,393.0L757.0,142.0M602.2,393.0L759.0,142.0M604.2,393.0L761.0,142.0M606.2,393.0L763.0,142.0M608.2,393.0L765.0,142.0M610.2,393.0L767.0,142.0M612.2,393.0L769.0,142.0M614.2,393.0L771.0,142.0M616.2,393.0L773.0,142.0M618.2,393.0L775.0,142.0M620.2,393.0L777.0,142.0M622.2,393.0L779.0,142.0M624.2,393.0L781.0,142.0M626.2,393.0L783.0,142.0M628.2,393.0L785.0,142.0M630.2,393.0L787.0,142.0M632.2,393.0L789.0,142.0M634.2,393.0L791.0,142.0M636.2,393.0L793.0,142.0M638.2,393.0L795.0,142.0M640.2,393.0L797.0,142.0M642.2,393.0L799.0,142.0M644.2,393.0L801.0,142.0M646.2,393.0L803.0,142.0M648.2,393.0L805.0,142.0M650.2,393.0L807.0,142.0M652.2,393.0L809.0,142.0M654.2,393.0L811.0,142.0M656.2,393.0L813.0,142.0M658.2,393.0L815.0,142.0M660.2,393.0L817.0,142.0M662.2,393.0L819.0,142.0M664.2,393.0L821.0,142.0M666.2,393.0L823.0,142.0M668.2,393.0L825.0,142.0M670.2,393.0L827.0,142.0M672.2,393.0L829.0,142.0M674.2,393.0L831.0,142.0M676.2,393.0L833.0,142.0M678.2,393.0L835.0,142.0M680.2,393.0L837.0,142.0M682.2,393.0L839.0,142.0M684.2,393.0L841.0,142.0M686.2,393.0L843.0,142.0M688.2,393.0L845.0,142.0M690.2,393.0L847.0,142.0M692.2,393.0L849.0,142.0M694.2,393.0L851.0,142.0M696.2,393.0L853.0,142.0M698.2,393.0L855.0,142.0M700.2,393.0L857.0,142.0M702.2,393.0L859.0,142.0M704.2,393.0L861.0,142.0M706.2,393.0L863.0,142.0M708.2,393.0L865.0,142.0M710.2,393.0L867.0,142.0M712.2,393.0L869.0,142.0M714.2,393.0L871.0,142.0M716.2,393.0L873.0,142.0M718.2,393.0L875.0,142.0M720.2,393.0L877.0,142.0M722.2,393.0L879.0,142.0M724.2,393.0L881.0,142.0M726.2,393.0L883.0,142.0M728.2,393.0L885.0,142.0M730.2,393.0L887.0,142.0M732.2,393.0L889.0,142.0M734.2,393.0L891.0,142.0M736.2,393.0L893.0,142.0M738.2,393.0L895.0,142.0M740.2,393.0L897.0,142.0M742.2,393.0L899.0,142.0M744.2,393.0L901.0,142.0M746.2,393.0L903.0,142.0M748.2,393.0L905.0,142.0M750.2,393.0L907.0,142.0M752.2,393.0L909.0,142.0M754.2,393.0L911.0,142.0M756.2,393.0L913.0,142.0M758.2,393.0L915.0,142.0M760.2,393.0L917.0,142.0M762.2,393.0L919.0,142.0M764.2,393.0L921.0,142.0M766.2,393.0L923.0,142.0M768.2,393.0L925.0,142.0M770.2,393.0L927.0,142.0M772.2,393.0L929.0,142.0M774.2,393.0L931.0,142.0M776.2,393.0L933.0,142.0M778.2,393.0L935.0,142.0M780.2,393.0L937.0,142.0M782.2,393.0L939.0,142.0M784.2,393.0L941.0,142.0M786.2,393.0L943.0,142.0M788.2,393.0L945.0,142.0M790.2,393.0L947.0,142.0M792.2,393.0L949.0,142.0M794.2,393.0L951.0,142.0M796.2,393.0L953.0,142.0M798.2,393.0L955.0,142.0M800.2,393.0L957.0,142.0M802.2,393.0L959.0,142.0M804.2,393.0L961.0,142.0M806.2,393.0L963.0,142.0M808.2,393.0L965.0,142.0M810.2,393.0L967.0,142.0M812.2,393.0L969.0,142.0M814.2,393.0L971.0,142.0M816.2,393.0L973.0,142.0M818.2,393.0L975.0,142.0M820.2,393.0L977.0,142.0M822.2,393.0L979.0,142.0M824.2,393.0L981.0,142.0M826.2,393.0L983.0,142.0M828.2,393.0L985.0,142.0M830.2,393.0L987.0,142.0M832.2,393.0L989.0,142.0M834.2,393.0L991.0,142.0M836.2,393.0L993.0,142.0M838.2,393.0L995.0,142.0M840.2,393.0L997.0,142.0M842.2,393.0L999.0,142.0M844.2,393.0L1001.0,142.0M846.2,393.0L1003.0,142.0M848.2,393.0L1005.0,142.0M850.2,393.0L1007.0,142.0M852.2,393.0L1009.0,142.0M854.2,393.0L1011.0,142.0M856.2,393.0L1013.0,142.0M858.2,393.0L1015.0,142.0M860.2,393.0L1017.0,142.0M862.2,393.0L1019.0,142.0M864.2,393.0L1021.0,142.0M866.2,393.0L1023.0,142.0M868.2,393.0L1025.0,142.0M870.2,393.0L1027.0,142.0M872.2,393.0L1029.0,142.0M874.2,393.0L1031.0,142.0M876.2,393.0L1033.0,142.0M878.2,393.0L1035.0,142.0M880.2,393.0L1037.0,142.0M882.2,393.0L1039.0,142.0M884.2,393.0L1041.0,142.0M886.2,393.0L1043.0,142.0M888.2,393.0L1045.0,142.0M890.2,393.0L1047.0,142.0M892.2,393.0L1049.0,142.0M894.2,393.0L1051.0,142.0M896.2,393.0L1053.0,142.0M898.2,393.0L1055.0,142.0M900.2,393.0L1057.0,142.0M902.2,393.0L1059.0,142.0M904.2,393.0L1061.0,142.0" stroke="#2fc1de" stroke-width="0.86" fill="none" clip-path="url(#wclip)"/>
<line x1="904.0" y1="391.0" x2="711.88" y2="265.28" stroke="#e6eef1" stroke-width="1.1"/>
<line x1="904.0" y1="391.0" x2="674.88" y2="405.82" stroke="#e6eef1" stroke-width="1.1"/>
<line x1="904.0" y1="391.0" x2="733.37" y2="544.63" stroke="#e6eef1" stroke-width="1.1"/>
<line x1="904.0" y1="391.0" x2="972.47" y2="610.15" stroke="#e6eef1" stroke-width="1.1"/>
<line x1="904.0" y1="391.0" x2="1131.76" y2="420.02" stroke="#e6eef1" stroke-width="1.1"/>
<line x1="904.0" y1="391.0" x2="1129.53" y2="347.98" stroke="#e6eef1" stroke-width="1.1"/>
<line x1="904.0" y1="391.0" x2="1080.65" y2="244.34" stroke="#e6eef1" stroke-width="1.1"/>
<g transform="translate(904.0,391.0) rotate(72.0)">
<line x1="-155.0" y1="-26.2" x2="-155.0" y2="26.2" stroke="#1a2325" stroke-width="3.2" stroke-dasharray="0.75 0.7" opacity="0.75"/>
<g><text transform="translate(-219.42,28.93) scale(0.2973,0.8286)" font-family="Liberation Sans, sans-serif" font-weight="bold" font-size="100" fill="#1a2325" stroke="#1a2325" stroke-width="0.77" filter="url(#er15)">2</text><text transform="translate(-200.57,27.74) scale(0.2806,0.8059)" font-family="Liberation Sans, sans-serif" font-weight="bold" font-size="100" fill="#1a2325" stroke="#1a2325" stroke-width="4.27" filter="url(#er16)">0</text><text transform="translate(-185.85,26.25) scale(0.4637,0.4212)" font-family="Liberation Sans, sans-serif" font-size="100" fill="#1a2325">.</text><text transform="translate(-173.80,26.99) scale(0.2838,0.7839)" font-family="Liberation Sans, sans-serif" font-weight="bold" font-size="100" fill="#1a2325" stroke="#1a2325" stroke-width="3.82" filter="url(#er17)">6</text></g>
<text x="-147.5" y="1.3" font-family="Liberation Serif, serif" font-weight="bold" font-size="6.2" fill="#1a2325" stroke="#1a2325" stroke-width="0.22" textLength="121.0" lengthAdjust="spacing">ANNUAL REPORT MEASUREMENTS</text>
</g>
<g transform="translate(904.0,391.0) rotate(44.0)">
<line x1="-195.0" y1="-15.0" x2="-195.0" y2="15.0" stroke="#1a2325" stroke-width="3.2" stroke-dasharray="0.75 0.7" opacity="0.75"/>
<g><text transform="translate(-220.58,16.49) scale(0.1570,0.4724)" font-family="Liberation Sans, sans-serif" font-weight="bold" font-size="100" fill="#1a2325" stroke="#1a2325" stroke-width="2.15" filter="url(#er18)">2</text><text transform="translate(-212.49,15.00) scale(0.2518,0.2287)" font-family="Liberation Sans, sans-serif" font-size="100" fill="#1a2325">.</text><text transform="translate(-205.78,16.32) scale(0.1384,0.4743)" font-family="Liberation Sans, sans-serif" font-weight="bold" font-size="100" fill="#1a2325" stroke="#1a2325" stroke-width="7.10" filter="url(#er19)">7</text></g>
<text x="-187.5" y="1.3" font-family="Liberation Serif, serif" font-weight="bold" font-size="6.2" fill="#1a2325" stroke="#1a2325" stroke-width="0.22" textLength="119.6" lengthAdjust="spacing">ALCOHOLIC BEVERAGES ENJOYED</text>
</g>
<g transform="translate(904.0,391.0) rotate(14.5)">
<line x1="-156.3" y1="-26.4" x2="-156.3" y2="26.4" stroke="#1a2325" stroke-width="3.2" stroke-dasharray="0.75 0.7" opacity="0.75"/>
<g><text transform="translate(-217.98,25.89) scale(0.2725,0.7527)" font-family="Liberation Sans, sans-serif" font-weight="bold" font-size="100" fill="#1a2325" stroke="#1a2325" stroke-width="1.35" clip-path="url(#c11)">1</text><text transform="translate(-204.18,27.26) scale(0.2845,0.8038)" font-family="Liberation Sans, sans-serif" font-weight="bold" font-size="100" fill="#1a2325" stroke="#1a2325" stroke-width="3.38" filter="url(#er20)">5</text><text transform="translate(-189.01,26.40) scale(0.4654,0.4227)" font-family="Liberation Sans, sans-serif" font-size="100" fill="#1a2325">.</text><text transform="translate(-176.92,27.25) scale(0.2912,0.7917)" font-family="Liberation Sans, sans-serif" font-weight="bold" font-size="100" fill="#1a2325" stroke="#1a2325" stroke-width="3.47" filter="url(#er21)">9</text></g>
<text x="-148.8" y="1.3" font-family="Liberation Serif, serif" font-weight="bold" font-size="6.2" fill="#1a2325" stroke="#1a2325" stroke-width="0.22" textLength="74.7" lengthAdjust="spacing">OFFICE EMAILS SENT</text>
</g>
<g transform="translate(904.0,391.0) rotate(-22.9)">
<line x1="-144.8" y1="-35.1" x2="-144.8" y2="35.1" stroke="#1a2325" stroke-width="3.2" stroke-dasharray="0.75 0.7" opacity="0.75"/>
<g><text transform="translate(-220.24,34.77) scale(0.3777,1.0108)" font-family="Liberation Sans, sans-serif" font-weight="bold" font-size="100" fill="#1a2325" stroke="#1a2325" stroke-width="0.75" clip-path="url(#c12)">1</text><text transform="translate(-204.64,38.40) scale(0.3623,1.1162)" font-family="Liberation Sans, sans-serif" font-weight="bold" font-size="100" fill="#1a2325" stroke="#1a2325" stroke-width="4.93" filter="url(#er22)">7</text><text transform="translate(-188.48,35.15) scale(0.6329,0.5748)" font-family="Liberation Sans, sans-serif" font-size="100" fill="#1a2325">.</text><text transform="translate(-172.09,36.70) scale(0.3953,1.0661)" font-family="Liberation Sans, sans-serif" font-weight="bold" font-size="100" fill="#1a2325" stroke="#1a2325" stroke-width="2.64" filter="url(#er20)">8</text></g>
<text x="-137.3" y="1.3" font-family="Liberation Serif, serif" font-weight="bold" font-size="6.2" fill="#1a2325" stroke="#1a2325" stroke-width="0.22" textLength="43.4" lengthAdjust="spacing">PAGES READ</text>
</g>
<g transform="translate(904.0,391.0) rotate(-74.0)">
<line x1="-115.5" y1="-41.5" x2="-115.5" y2="41.5" stroke="#1a2325" stroke-width="3.2" stroke-dasharray="0.75 0.7" opacity="0.75"/>
<g><text transform="translate(-227.48,43.28) scale(0.5147,1.2574)" font-family="Liberation Sans, sans-serif" font-weight="bold" font-size="100" fill="#1a2325" stroke="#1a2325" stroke-width="1.57" filter="url(#er23)">6</text><text transform="translate(-195.05,43.49) scale(0.5262,1.2633)" font-family="Liberation Sans, sans-serif" font-weight="bold" font-size="100" fill="#1a2325" stroke="#1a2325" stroke-width="1.23" filter="url(#er24)">9</text><text transform="translate(-168.00,41.50) scale(0.8046,0.7307)" font-family="Liberation Sans, sans-serif" font-size="100" fill="#1a2325">.</text><text transform="translate(-148.05,45.50) scale(0.5242,1.3033)" font-family="Liberation Sans, sans-serif" font-weight="bold" font-size="100" fill="#1a2325" filter="url(#er25)">2</text></g>
<text x="-108.0" y="1.3" font-family="Liberation Serif, serif" font-weight="bold" font-size="6.2" fill="#1a2325" stroke="#1a2325" stroke-width="0.22" textLength="70.7" lengthAdjust="spacing">SONGS LISTENED TO</text>
</g>
<g transform="translate(904.0,391.0) rotate(40.0)">
<line x1="126.0" y1="-40.2" x2="126.0" y2="40.2" stroke="#1a2325" stroke-width="3.2" stroke-dasharray="0.75 0.7" opacity="0.75"/>
<g><text transform="translate(128.00,39.39) scale(0.4111,1.1450)" font-family="Liberation Sans, sans-serif" font-weight="bold" font-size="100" fill="#1a2325" stroke="#1a2325" stroke-width="1.51" clip-path="url(#c13)">1</text><text transform="translate(148.76,41.63) scale(0.4302,1.2095)" font-family="Liberation Sans, sans-serif" font-weight="bold" font-size="100" fill="#1a2325" stroke="#1a2325" stroke-width="4.03" filter="url(#er26)">6</text><text transform="translate(171.49,40.25) scale(0.7057,0.6409)" font-family="Liberation Sans, sans-serif" font-size="100" fill="#1a2325">.</text><text transform="translate(189.92,42.03) scale(0.4350,1.2208)" font-family="Liberation Sans, sans-serif" font-weight="bold" font-size="100" fill="#1a2325" stroke="#1a2325" stroke-width="3.33" filter="url(#er27)">8</text></g>
<text x="35.3" y="1.3" font-family="Liberation Serif, serif" font-weight="bold" font-size="6.2" fill="#1a2325" stroke="#1a2325" stroke-width="0.22" textLength="83.2" lengthAdjust="spacing">DIGITAL PHOTOS SHOT</text>
</g>
<g transform="translate(904.0,391.0) rotate(-1.6)">
<line x1="179.2" y1="-15.5" x2="179.2" y2="15.5" stroke="#1a2325" stroke-width="3.2" stroke-dasharray="0.75 0.7" opacity="0.75"/>
<g><text transform="translate(185.86,15.25) scale(0.1601,0.4429)" font-family="Liberation Sans, sans-serif" font-weight="bold" font-size="100" fill="#1a2325" stroke="#1a2325" stroke-width="3.71" filter="url(#er28)">0</text><text transform="translate(194.22,14.50) scale(0.2617,0.2376)" font-family="Liberation Sans, sans-serif" font-size="100" fill="#1a2325">.</text><text transform="translate(201.02,15.42) scale(0.1618,0.4548)" font-family="Liberation Sans, sans-serif" font-weight="bold" font-size="100" fill="#1a2325" stroke="#1a2325" stroke-width="2.78" filter="url(#er29)">5</text><text transform="translate(211.43,15.45) scale(0.1696,0.4424)" font-family="Liberation Sans, sans-serif" font-weight="bold" font-size="100" fill="#1a2325" stroke="#1a2325" stroke-width="0.24" filter="url(#er30)">2</text></g>
<text x="133.7" y="1.3" font-family="Liberation Serif, serif" font-weight="bold" font-size="6.2" fill="#1a2325" stroke="#1a2325" stroke-width="0.22" textLength="38.0" lengthAdjust="spacing">MILES RUN</text>
</g>
<g transform="translate(904.0,391.0) rotate(-25.3)">
<line x1="179.2" y1="-25.6" x2="179.2" y2="25.6" stroke="#1a2325" stroke-width="3.2" stroke-dasharray="0.75 0.7" opacity="0.75"/>
<g><text transform="translate(181.62,25.60) scale(0.3037,0.7442)" font-family="Liberation Sans, sans-serif" font-weight="bold" font-size="100" fill="#1a2325" clip-path="url(#c14)">1</text><text transform="translate(192.52,25.60) scale(0.4967,0.4511)" font-family="Liberation Sans, sans-serif" font-size="100" fill="#1a2325">.</text><text transform="translate(205.12,27.42) scale(0.2956,0.7972)" font-family="Liberation Sans, sans-serif" font-weight="bold" font-size="100" fill="#1a2325" stroke="#1a2325" stroke-width="2.95" filter="url(#er31)">7</text></g>
<text x="70.5" y="1.3" font-family="Liberation Serif, serif" font-weight="bold" font-size="6.2" fill="#1a2325" stroke="#1a2325" stroke-width="0.22" textLength="101.2" lengthAdjust="spacing">CUPS OF COFFEE CONSUMED</text>
</g>
<g transform="translate(904.0,391.0) rotate(-65.3)">
<line x1="139.0" y1="-30.4" x2="139.0" y2="30.4" stroke="#1a2325" stroke-width="3.2" stroke-dasharray="0.75 0.7" opacity="0.75"/>
<g><text transform="translate(142.24,33.40) scale(0.3629,0.9567)" font-family="Liberation Sans, sans-serif" font-weight="bold" font-size="100" fill="#1a2325" filter="url(#er32)">2</text><text transform="translate(160.56,30.40) scale(0.5570,0.5059)" font-family="Liberation Sans, sans-serif" font-size="100" fill="#1a2325">.</text><text transform="translate(174.85,31.36) scale(0.3551,0.9111)" font-family="Liberation Sans, sans-serif" font-weight="bold" font-size="100" fill="#1a2325" stroke="#1a2325" stroke-width="2.52" filter="url(#er33)">9</text><text transform="translate(197.75,31.39) scale(0.3469,0.9255)" font-family="Liberation Sans, sans-serif" font-weight="bold" font-size="100" fill="#1a2325" stroke="#1a2325" stroke-width="2.40" filter="url(#er34)">5</text></g>
<text x="36.1" y="1.3" font-family="Liberation Serif, serif" font-weight="bold" font-size="6.2" fill="#1a2325" stroke="#1a2325" stroke-width="0.22" textLength="95.4" lengthAdjust="spacing">SUBWAY MILES TRAVELLED</text>
</g>
<line x1="650.0" y1="141.2" x2="1157.0" y2="141.2" stroke="#4a5a5d" stroke-width="1.1" opacity="1"/>
<line x1="650.0" y1="631.5" x2="1157.0" y2="631.5" stroke="#4a5a5d" stroke-width="1.1" opacity="1"/>
<text y="135.00" font-family="Liberation Serif, serif" font-size="62.5" fill="#1a2325" stroke="#1a2325" stroke-width="0.8" stroke-linejoin="round"><tspan x="649.57" textLength="78.70" lengthAdjust="spacingAndGlyphs">An</tspan> <tspan x="740.51" textLength="204.08" lengthAdjust="spacingAndGlyphs">Average</tspan> <tspan x="958.21" textLength="103.64" lengthAdjust="spacingAndGlyphs">Day</tspan></text>
<text x="650.1" y="662.1" font-family="Liberation Serif, serif" font-weight="bold" font-size="6.4" fill="#1a2325" stroke="#1a2325" stroke-width="0.22" textLength="100.0" lengthAdjust="spacing">CHANCE OF OLIVE’S LUNCH:</text>
<g transform="translate(650,665.70)"><rect x="0.10" y="0" width="116.80" height="3.30" fill="url(#tk)"/></g>
<line x1="650.1" y1="749.5" x2="766.9" y2="749.5" stroke="#5d6c6f" stroke-width="1.1" opacity="1"/>
<g><text transform="translate(651.52,747.46) scale(0.3899,1.0672)" font-family="Liberation Sans, sans-serif" font-weight="bold" font-size="100" fill="#2fc1de" stroke="#2fc1de" stroke-width="1.57" filter="url(#er35)">4</text><text transform="translate(676.80,747.25) scale(0.3781,1.0612)" font-family="Liberation Sans, sans-serif" font-weight="bold" font-size="100" fill="#2fc1de" stroke="#2fc1de" stroke-width="1.97" filter="url(#er36)">4</text><text transform="translate(701.10,746.23) scale(0.3413,1.0313)" font-family="Liberation Sans, sans-serif" font-weight="bold" font-size="100" fill="#2fc1de" stroke="#2fc1de" stroke-width="4.40" filter="url(#er37)">%</text></g>
<text x="773.3" y="662.1" font-family="Liberation Serif, serif" font-weight="bold" font-size="6.4" fill="#1a2325" stroke="#1a2325" stroke-width="0.22" textLength="109.2" lengthAdjust="spacing">CHANCE OF DINNER AT HOME:</text>
<g transform="translate(773,665.70)"><rect x="0.30" y="0" width="116.70" height="3.30" fill="url(#tk)"/></g>
<line x1="773.3" y1="749.5" x2="890.0" y2="749.5" stroke="#5d6c6f" stroke-width="1.1" opacity="1"/>
<g><text transform="translate(774.95,746.53) scale(0.3722,1.0416)" font-family="Liberation Sans, sans-serif" font-weight="bold" font-size="100" fill="#2fc1de" filter="url(#er4)">3</text><text transform="translate(798.61,746.68) scale(0.4005,1.0438)" font-family="Liberation Sans, sans-serif" font-weight="bold" font-size="100" fill="#2fc1de" filter="url(#er38)">9</text><text transform="translate(825.14,746.48) scale(0.3359,1.0387)" font-family="Liberation Sans, sans-serif" font-weight="bold" font-size="100" fill="#2fc1de" stroke="#2fc1de" stroke-width="4.64" filter="url(#er39)">%</text></g>
<text x="916.6" y="662.1" font-family="Liberation Serif, serif" font-weight="bold" font-size="6.4" fill="#1a2325" stroke="#1a2325" stroke-width="0.22" textLength="105.0" lengthAdjust="spacing">AVERAGE TEMPERATURE (°F):</text>
<g transform="translate(917,665.70)"><rect x="-0.40" y="0" width="116.90" height="3.30" fill="url(#tk)"/></g>
<line x1="916.6" y1="749.5" x2="1033.5" y2="749.5" stroke="#5d6c6f" stroke-width="1.1" opacity="1"/>
<text x="916.6" y="759.7" font-family="Liberation Serif, serif" font-weight="bold" font-size="6.4" fill="#1a2325" stroke="#1a2325" stroke-width="0.22" textLength="93.0" lengthAdjust="spacing">-1.3°F CHANGE FROM 2006</text>
<g><text transform="translate(918.44,746.20) scale(0.3887,1.0453)" font-family="Liberation Sans, sans-serif" font-weight="bold" font-size="100" fill="#1a2325" stroke="#1a2325" stroke-width="0.16" filter="url(#er38)">5</text><text transform="translate(943.08,745.92) scale(0.3746,1.0372)" font-family="Liberation Sans, sans-serif" font-weight="bold" font-size="100" fill="#1a2325" stroke="#1a2325" stroke-width="0.70" filter="url(#er40)">5</text><text transform="translate(963.44,744.30) scale(0.6091,0.5532)" font-family="Liberation Sans, sans-serif" font-size="100" fill="#1a2325">.</text><text transform="translate(980.40,744.77) scale(0.3684,0.9744)" font-family="Liberation Sans, sans-serif" font-size="100" fill="#1a2325" stroke="#1a2325" stroke-width="5.20" filter="url(#er41)">2</text><text x="998.20" y="707.73" font-family="DejaVu Sans, Liberation Sans, sans-serif" font-weight="200" font-size="48.41" fill="#1a2325">°</text></g>
<text x="1040.0" y="662.1" font-family="Liberation Serif, serif" font-weight="bold" font-size="6.4" fill="#1a2325" stroke="#1a2325" stroke-width="0.22" textLength="90.2" lengthAdjust="spacing">CHANCE OF TRAVELLING:</text>
<g transform="translate(1040,665.70)"><rect x="0.00" y="0" width="116.90" height="3.30" fill="url(#tk)"/></g>
<line x1="1040.0" y1="749.5" x2="1156.9" y2="749.5" stroke="#5d6c6f" stroke-width="1.1" opacity="1"/>
<g><text transform="translate(1043.37,744.08) scale(0.3521,0.9689)" font-family="Liberation Sans, sans-serif" font-weight="bold" font-size="100" fill="#2fc1de" stroke="#2fc1de" stroke-width="0.45" clip-path="url(#c15)">1</text><text transform="translate(1061.34,747.26) scale(0.3932,1.0607)" font-family="Liberation Sans, sans-serif" font-weight="bold" font-size="100" fill="#2fc1de" filter="url(#er42)">0</text><text transform="translate(1087.17,746.03) scale(0.3318,1.0255)" font-family="Liberation Sans, sans-serif" font-weight="bold" font-size="100" fill="#2fc1de" stroke="#2fc1de" stroke-width="4.82" filter="url(#er43)">%</text></g>
</svg>
</body></html>
